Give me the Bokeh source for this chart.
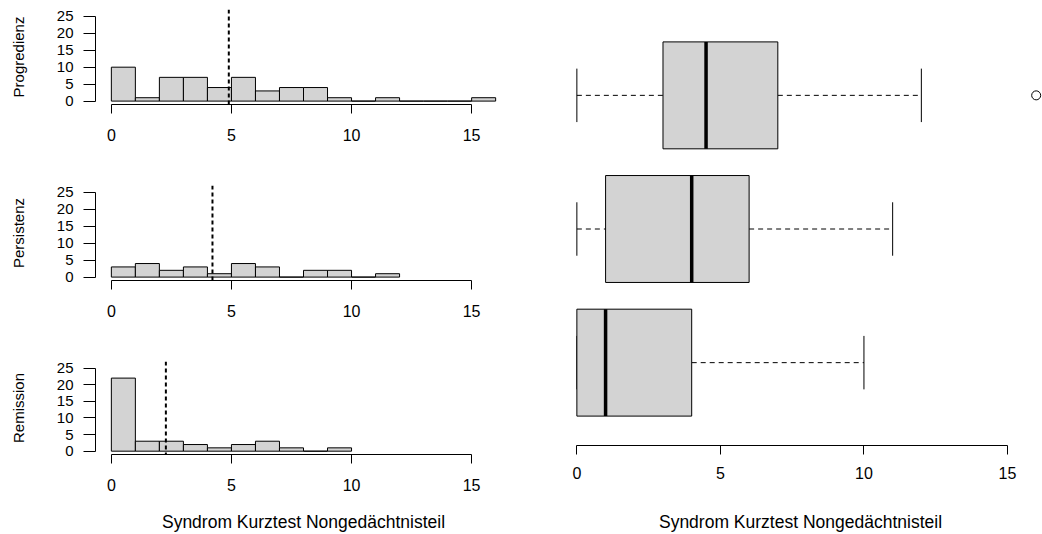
from bokeh.plotting import figure
from bokeh.layouts import row, column
from bokeh.models import Range1d, FixedTicker, Span
from bokeh.embed import file_html
from bokeh.resources import INLINE

# ---------------- data ----------------
groups = ["Progredienz", "Persistenz", "Remission"]
bin_edges = list(range(0, 17))
counts_prog = [10, 1, 7, 7, 4, 7, 3, 4, 4, 1, 0, 1, 0, 0, 0, 1]
counts_pers = [3, 4, 2, 3, 1, 4, 3, 0, 2, 2, 0, 1]
counts_rem = [22, 3, 3, 2, 1, 2, 3, 1, 0, 1]
means = [4.89, 4.21, 2.27]

box_low = [0, 0, 0]
box_q1 = [3, 1, 0]
box_med = [4.5, 4, 1]
box_q3 = [7, 6, 4]
box_high = [12, 11, 10]
outlier_group = ["Progredienz"]
outlier_value = [16]

x_ticks = [0, 5, 10, 15]
y_ticks = [0, 5, 10, 15, 20, 25]
x_label = "Syndrom Kurztest Nongedächtnisteil"

FONT = "Liberation Sans"
GRAY = "#D3D3D3"


def style_axis(ax, tick_out, bounds, ticks, size):
    ax.ticker = FixedTicker(ticks=ticks)
    ax.bounds = bounds
    ax.axis_line_color = "black"
    ax.major_tick_line_color = "black"
    ax.minor_tick_line_color = None
    ax.major_tick_in = 0
    ax.major_tick_out = tick_out
    ax.major_label_text_font = FONT
    ax.major_label_text_font_size = size
    ax.major_label_text_color = "black"
    ax.axis_label_text_font = FONT
    ax.axis_label_text_font_style = "normal"
    ax.axis_label_text_color = "black"


def hist_fig(name, counts, mean, height, top_b, bottom_b, show_xlabel):
    p = figure(width=540, height=height,
               x_range=Range1d(-0.66, 16.66), y_range=Range1d(-1.0, 27.0),
               output_backend="svg", toolbar_location=None,
               min_border_left=95, min_border_right=29,
               min_border_top=top_b, min_border_bottom=bottom_b)
    p.xgrid.visible = False
    p.ygrid.visible = False
    p.outline_line_color = None
    n = len(counts)
    p.quad(left=bin_edges[:n], right=bin_edges[1:n + 1], bottom=0, top=counts,
           fill_color=GRAY, line_color="black", line_width=1)
    p.add_layout(Span(location=mean, dimension="height", line_color="black",
                      line_dash="4 3", line_width=2))
    style_axis(p.xaxis[0], 9, (0, 15), x_ticks, "16px")
    p.xaxis[0].major_label_standoff = 15
    style_axis(p.yaxis[0], 12, (0, 25), y_ticks, "15px")
    p.yaxis[0].major_label_standoff = 10
    p.yaxis[0].axis_label = name
    p.yaxis[0].axis_label_text_font_size = "15px"
    p.yaxis[0].axis_label_standoff = 27
    if show_xlabel:
        p.xaxis[0].axis_label = x_label
        p.xaxis[0].axis_label_text_font_size = "17.5px"
        p.xaxis[0].axis_label_standoff = 18
    return p


h1 = hist_fig(groups[0], counts_prog, means[0], 176, 9, 72, False)
h2 = hist_fig(groups[1], counts_pers, means[1], 176, 9, 72, False)
h3 = hist_fig(groups[2], counts_rem, means[2], 182, 9, 78, True)

# ---------------- boxplot ----------------
pos = [len(groups) - i for i in range(len(groups))]
half_box = 0.4
half_cap = 0.2

b = figure(width=502, height=534,
           x_range=Range1d(-0.64, 16.22), y_range=Range1d(0.38, 3.62),
           output_backend="svg", toolbar_location=None,
           min_border_left=18, min_border_right=0,
           min_border_top=12, min_border_bottom=88)
b.xgrid.visible = False
b.ygrid.visible = False
b.outline_line_color = None
b.yaxis.visible = False

# whiskers (dashed)
b.segment(x0=box_low, x1=box_q1, y0=pos, y1=pos, line_color="black",
          line_dash="5 4", line_width=1)
b.segment(x0=box_q3, x1=box_high, y0=pos, y1=pos, line_color="black",
          line_dash="5 4", line_width=1)
# caps
b.segment(x0=box_low, x1=box_low, y0=[v - half_cap for v in pos],
          y1=[v + half_cap for v in pos], line_color="black", line_width=1)
b.segment(x0=box_high, x1=box_high, y0=[v - half_cap for v in pos],
          y1=[v + half_cap for v in pos], line_color="black", line_width=1)
# boxes
b.quad(left=box_q1, right=box_q3, bottom=[v - half_box for v in pos],
       top=[v + half_box for v in pos], fill_color=GRAY, line_color="black",
       line_width=1)
# medians
b.segment(x0=box_med, x1=box_med, y0=[v - half_box for v in pos],
          y1=[v + half_box for v in pos], line_color="black", line_width=3.5)
# outliers
out_pos = [pos[groups.index(g)] for g in outlier_group]
b.scatter(x=outlier_value, y=out_pos, marker="circle", size=9,
          fill_color=None, line_color="black", line_width=1)

style_axis(b.xaxis[0], 9, (0, 15), x_ticks, "16px")
b.xaxis[0].major_label_standoff = 12
b.xaxis[0].axis_label = x_label
b.xaxis[0].axis_label_text_font_size = "17.5px"
b.xaxis[0].axis_label_standoff = 30

layout = row(column(h1, h2, h3), b)
open("out.html", "w").write(file_html(layout, INLINE))
